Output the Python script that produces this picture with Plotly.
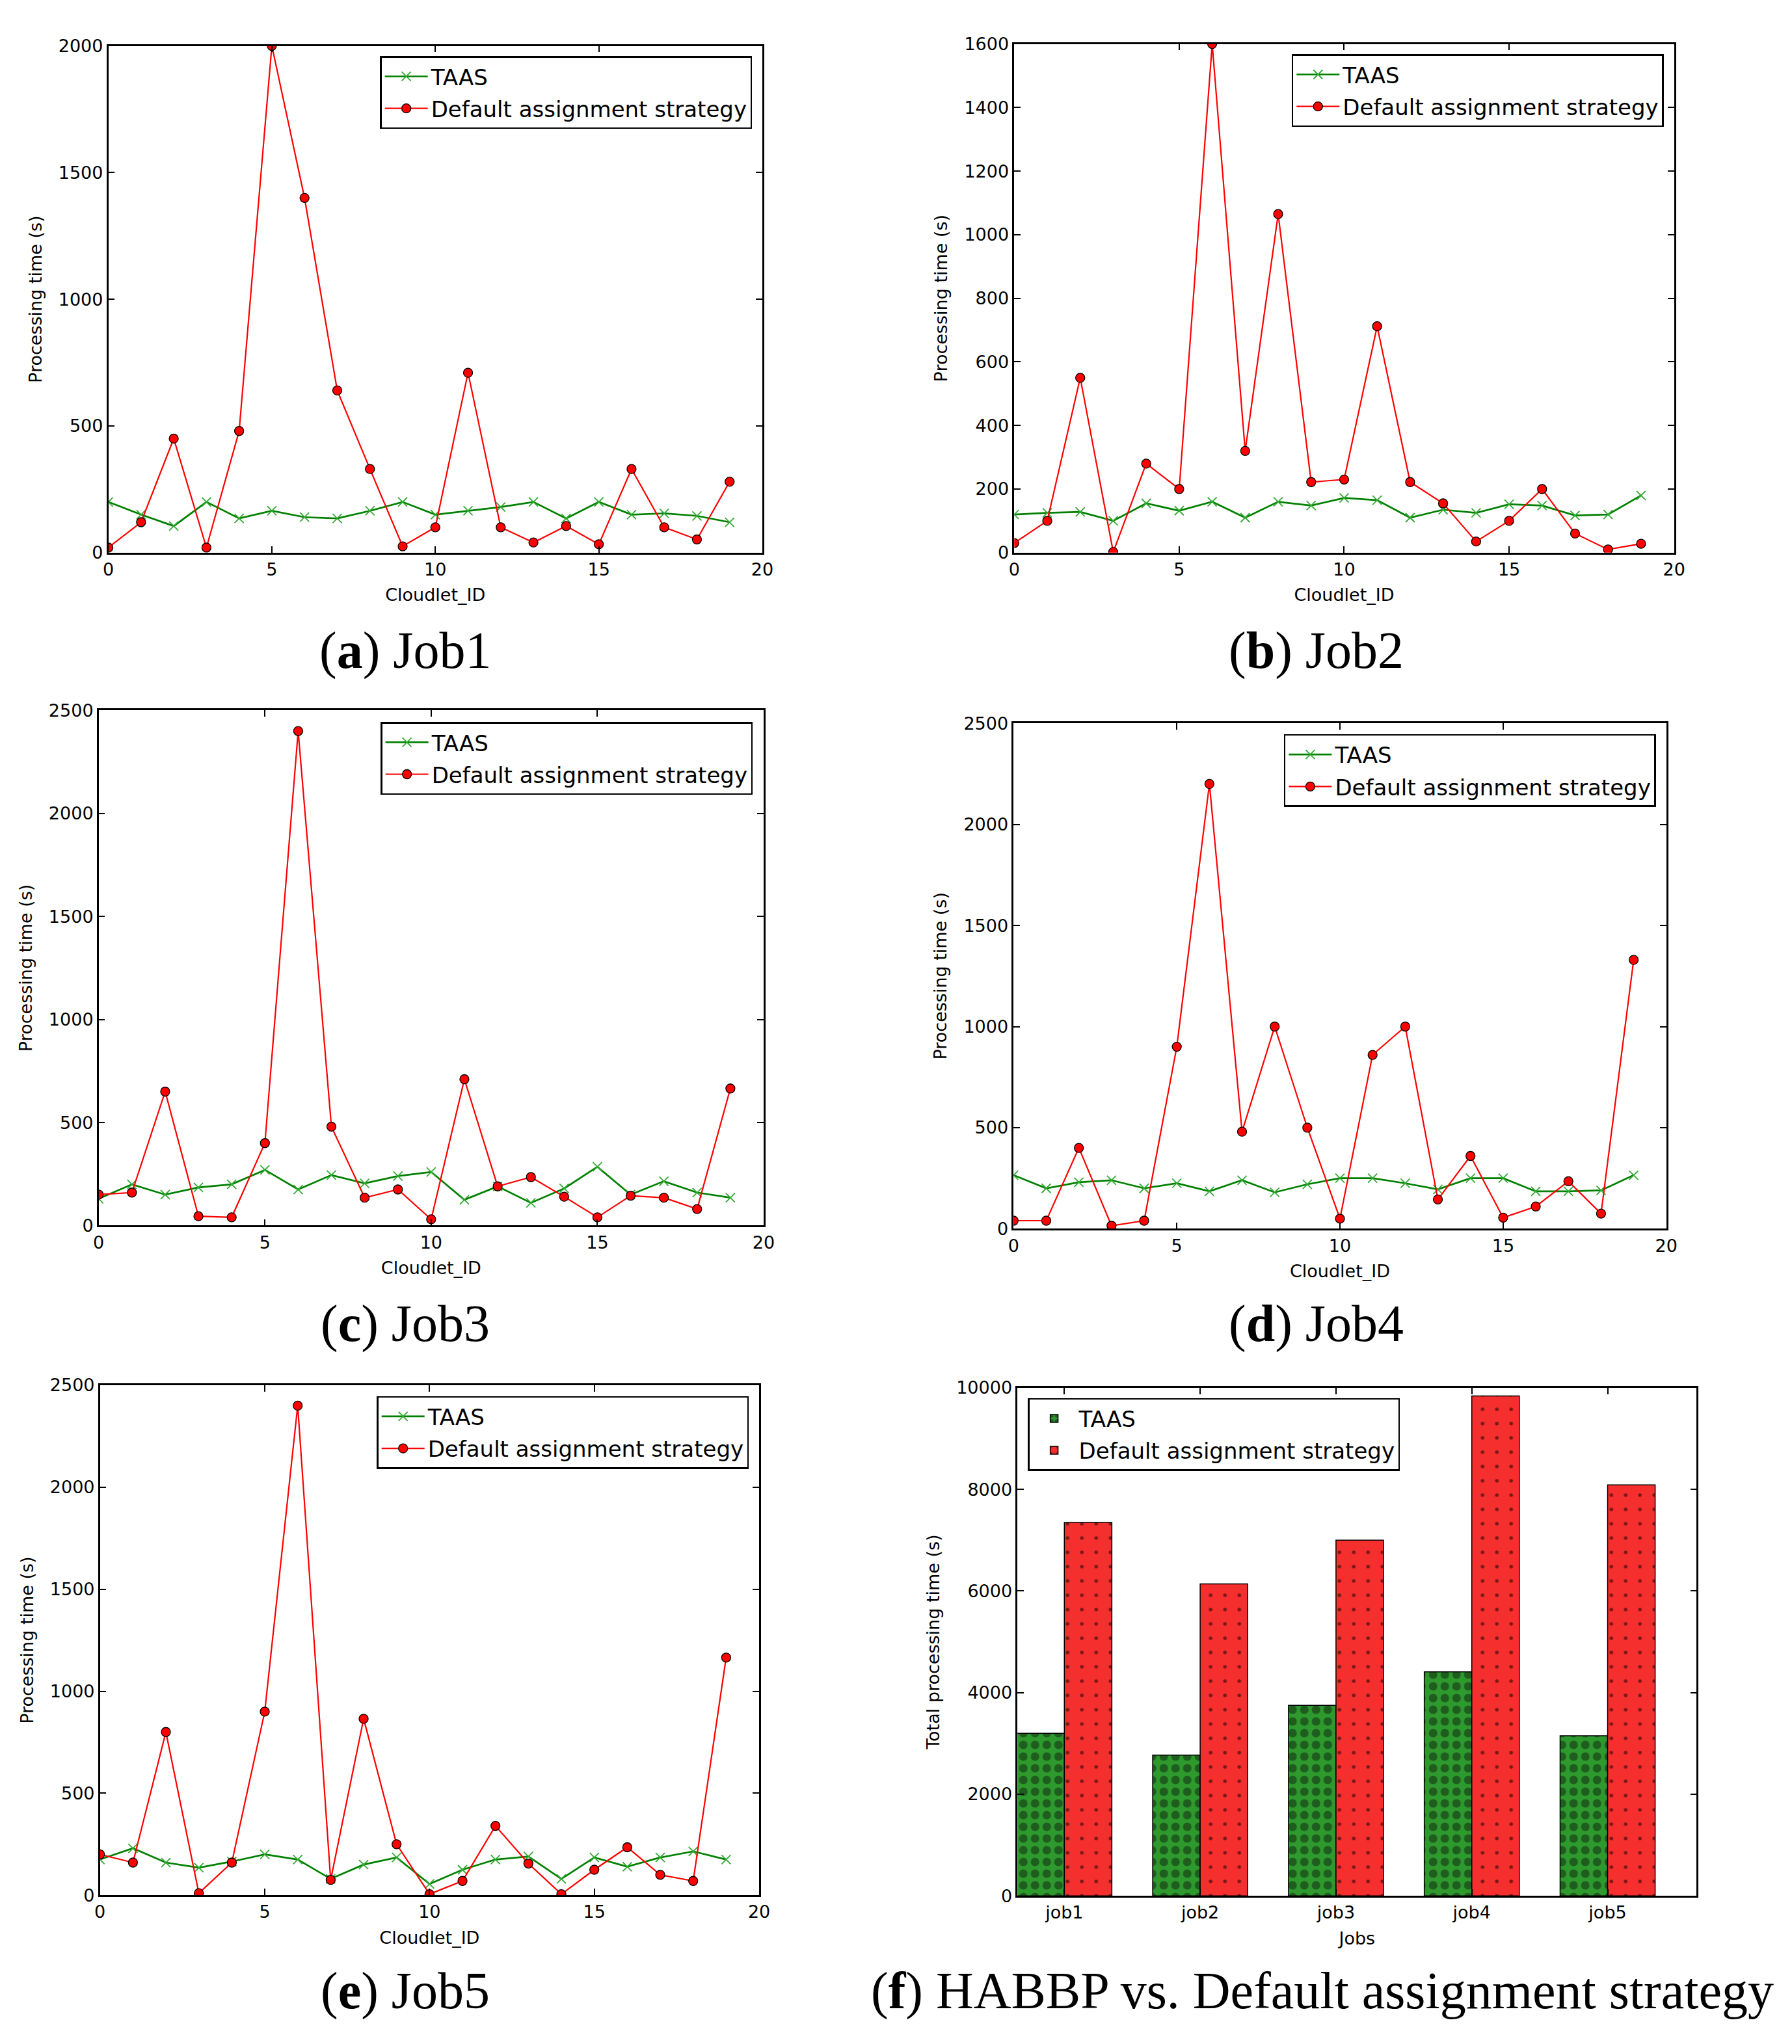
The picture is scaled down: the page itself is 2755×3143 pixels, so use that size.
import plotly.graph_objects as go

W, H = 2755, 3143

# ---------------- data ----------------
cloudlet_ids = list(range(20))

job1_taas = [200, 150, 105, 200, 135, 165, 140, 135, 165, 200, 150, 165, 180, 200, 135, 200, 150, 155, 145, 120]
job1_default = [20, 120, 450, 20, 480, 2000, 1400, 640, 330, 25, 100, 710, 100, 40, 105, 33, 330, 100, 52, 280]

job2_taas = [120, 125, 128, 100, 155, 132, 160, 110, 160, 148, 172, 165, 110, 135, 125, 152, 148, 117, 120, 180]
job2_default = [30, 100, 550, 2, 280, 200, 1600, 320, 1065, 222, 230, 712, 222, 155, 35, 100, 200, 60, 10, 28]

job3_taas = [130, 200, 150, 185, 200, 270, 175, 245, 205, 240, 260, 125, 190, 110, 180, 285, 150, 215, 160, 135]
job3_default = [150, 160, 650, 45, 40, 400, 2400, 480, 135, 175, 30, 710, 190, 235, 140, 40, 145, 135, 80, 665]

job4_taas = [265, 200, 230, 240, 200, 225, 185, 240, 180, 220, 250, 250, 225, 195, 250, 250, 185, 185, 190, 265]
job4_default = [40, 40, 400, 15, 40, 900, 2200, 480, 1000, 500, 50, 860, 1000, 145, 360, 55, 110, 235, 75, 1330]

job5_taas = [175, 230, 160, 135, 165, 200, 175, 80, 150, 185, 55, 125, 175, 190, 80, 185, 140, 185, 215, 175]
job5_default = [200, 160, 800, 10, 160, 900, 2400, 75, 865, 250, 5, 70, 340, 155, 5, 125, 235, 100, 70, 1165]

jobs = ["job1", "job2", "job3", "job4", "job5"]
total_taas = [3200, 2770, 3750, 4410, 3150]
total_default = [7350, 6140, 7000, 9840, 8090]

series_names = ["TAAS", "Default assignment strategy"]
line_panels = [
    ("a", "Job1", job1_taas, job1_default, 2000, 500),
    ("b", "Job2", job2_taas, job2_default, 1600, 200),
    ("c", "Job3", job3_taas, job3_default, 2500, 500),
    ("d", "Job4", job4_taas, job4_default, 2500, 500),
    ("e", "Job5", job5_taas, job5_default, 2500, 500),
]

# ---------------- layout geometry (pixels) ----------------
boxes = {
    "a": (151, 47, 1166, 834),
    "b": (1557, 44, 2581, 834),
    "c": (136, 1079, 1168, 1879),
    "d": (1556, 1099, 2569, 1884),
    "e": (138, 2127, 1161, 2919),
    "f": (1562, 2131, 2616, 2920),
}
legend_pos = {  # (x, y, xanchor)
    "a": (1150, 63, "right"),
    "b": (2565, 60, "right"),
    "c": (1151, 1097, "right"),
    "d": (2553, 1116, "right"),
    "e": (1145, 2144, "right"),
    "f": (1578, 2147, "left"),
}
caption_pos = {
    "a": (612, 986), "b": (2026, 986),
    "c": (612, 2032), "d": (2026, 2032),
    "e": (612, 3068), "f": (2035, 3068),
}

SANS = "DejaVu Sans, sans-serif"
SERIF = "Liberation Serif, DejaVu Serif, serif"

def xdom(b):
    return [b[0] / W, b[2] / W]

def ydom(b):
    return [1 - b[3] / H, 1 - b[1] / H]

fig = go.Figure()
layout = dict(
    width=W, height=H,
    margin=dict(l=0, r=0, t=0, b=0),
    paper_bgcolor="white", plot_bgcolor="white",
    showlegend=True,
)

axis_common = dict(
    showline=True, linecolor="black", linewidth=2.5, mirror="ticks",
    ticks="inside", ticklen=10, tickwidth=2, tickcolor="black",
    showgrid=False, zeroline=False,
    tickfont=dict(family=SANS, size=27, color="black"),
)
title_font = dict(family=SANS, size=27, color="black")

annotations = []
all_keys = ["a", "b", "c", "d", "e", "f"]
for idx, key in enumerate(all_keys):
    n = idx + 1
    xa = "xaxis" if n == 1 else f"xaxis{n}"
    ya = "yaxis" if n == 1 else f"yaxis{n}"
    xr = "x" if n == 1 else f"x{n}"
    yr = "y" if n == 1 else f"y{n}"
    lg = "legend" if n == 1 else f"legend{n}"
    b = boxes[key]
    lx, ly, lanchor = legend_pos[key]
    layout[lg] = dict(
        x=lx / W, y=1 - ly / H, xanchor=lanchor, yanchor="top",
        xref="paper", yref="paper",
        bgcolor="white", bordercolor="black", borderwidth=2.5,
        font=dict(family=SANS, size=34, color="black"),
        itemwidth=66, tracegroupgap=2,
    )
    if key != "f":
        _, cap, taas, default, ymax, ystep = line_panels[idx]
        fig.add_trace(go.Scatter(
            x=cloudlet_ids, y=taas, name=series_names[0], mode="lines+markers",
            line=dict(color="#008000", width=2.7),
            marker=dict(symbol="x-thin", size=14, color="#008000",
                        line=dict(color="#33aa33", width=1.8)),
            xaxis=xr, yaxis=yr, legend=lg, legendgroup=f"{key}1",
        ))
        fig.add_trace(go.Scatter(
            x=cloudlet_ids, y=default, name=series_names[1], mode="lines+markers",
            line=dict(color="#ff0000", width=2.2),
            marker=dict(symbol="circle", size=14, color="#ff0000",
                        line=dict(color="black", width=1.3)),
            xaxis=xr, yaxis=yr, legend=lg, legendgroup=f"{key}2",
        ))
        layout[xa] = dict(axis_common, domain=xdom(b), anchor=yr, range=[0, 20],
                          tickmode="linear", tick0=0, dtick=5,
                          title=dict(text="Cloudlet_ID", standoff=16, font=title_font))
        layout[ya] = dict(axis_common, domain=ydom(b), anchor=xr, range=[0, ymax],
                          tickmode="linear", tick0=0, dtick=ystep,
                          title=dict(text="Processing time (s)", standoff=18, font=title_font))
        cap_text = f"(<b>{key}</b>) {cap}"
    else:
        fig.add_trace(go.Bar(
            x=list(range(len(jobs))), y=total_taas, name=series_names[0],
            width=0.35, offset=-0.35,
            marker=dict(color="#2e9a2e", line=dict(color="black", width=1.5),
                        pattern=dict(shape=".", fgcolor="#0d200d", bgcolor="#2e9a2e",
                                     size=18, solidity=0.42)),
            xaxis=xr, yaxis=yr, legend=lg, legendgroup="f1",
        ))
        fig.add_trace(go.Bar(
            x=list(range(len(jobs))), y=total_default, name=series_names[1],
            width=0.35, offset=0,
            marker=dict(color="#f52e2e", line=dict(color="black", width=1.5),
                        pattern=dict(shape=".", fgcolor="black", bgcolor="#f52e2e",
                                     size=22, solidity=0.05)),
            xaxis=xr, yaxis=yr, legend=lg, legendgroup="f2",
        ))
        layout[xa] = dict(axis_common, domain=xdom(b), anchor=yr, range=[-0.345, 4.655],
                          tickmode="array", tickvals=list(range(len(jobs))), ticktext=jobs,
                          title=dict(text="Jobs", standoff=16, font=title_font))
        layout[ya] = dict(axis_common, domain=ydom(b), anchor=xr, range=[0, 10000],
                          tickmode="linear", tick0=0, dtick=2000, tickformat="d",
                          title=dict(text="Total processing time (s)", standoff=18, font=title_font))
        cap_text = "(<b>f</b>) HABBP vs. Default assignment strategy"
    cx, cy = caption_pos[key]
    annotations.append(dict(
        text=cap_text, x=cx / W, y=1 - cy / H, xref="paper", yref="paper",
        xanchor="center", yanchor="middle", showarrow=False,
        font=dict(family=SERIF, size=80, color="black"),
    ))

layout["annotations"] = annotations
layout["barmode"] = "overlay"
fig.update_layout(**layout)
fig.write_html("out.html")
